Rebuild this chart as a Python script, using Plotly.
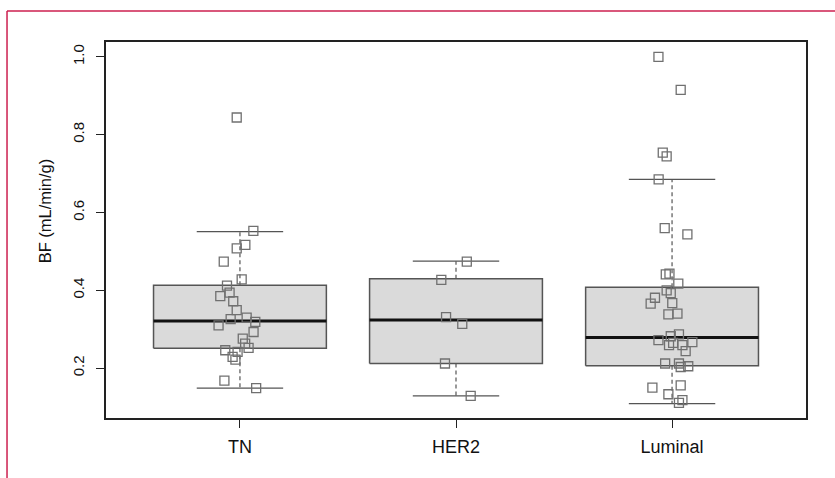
import plotly.graph_objects as go

# ---- data ----
categories = ["TN", "HER2", "Luminal"]
positions = [1, 2, 3]

# box statistics
upper_whisker = [0.551, 0.475, 0.685]
q3 = [0.413, 0.430, 0.408]
median = [0.321, 0.324, 0.279]
q1 = [0.251, 0.212, 0.206]
lower_whisker = [0.149, 0.129, 0.109]

# individual points: values and horizontal jitter (category units)
tn_values = [0.553, 0.517, 0.508, 0.474, 0.428, 0.412, 0.394, 0.385, 0.372, 0.349,
             0.326, 0.330, 0.310, 0.319, 0.293, 0.276, 0.263, 0.252, 0.246, 0.242,
             0.229, 0.222, 0.168, 0.149, 0.844]
tn_jitter = [0.062, 0.025, -0.015, -0.075, 0.008, -0.060, -0.048, -0.091, -0.031, -0.015,
             -0.043, 0.031, -0.099, 0.071, 0.063, 0.013, 0.024, 0.040, -0.068, -0.011,
             -0.034, -0.021, -0.072, 0.075, -0.015]

her2_values = [0.474, 0.427, 0.331, 0.314, 0.212, 0.129]
her2_jitter = [0.050, -0.068, -0.046, 0.029, -0.051, 0.068]

luminal_values = [1.000, 0.915, 0.754, 0.744, 0.685, 0.560, 0.544, 0.441, 0.443, 0.417,
                  0.400, 0.393, 0.381, 0.366, 0.367, 0.338, 0.340, 0.287, 0.282, 0.272,
                  0.267, 0.265, 0.259, 0.259, 0.244, 0.212, 0.212, 0.203, 0.205, 0.150,
                  0.156, 0.133, 0.118, 0.111]
luminal_jitter = [-0.063, 0.040, -0.043, -0.025, -0.062, -0.034, 0.071, -0.029, -0.012, 0.029,
                  -0.025, -0.006, -0.079, -0.099, 0.001, -0.017, 0.025, 0.032, -0.006, -0.063,
                  0.094, 0.005, -0.014, 0.048, 0.063, -0.032, 0.032, 0.040, 0.075, -0.091,
                  0.040, -0.017, 0.048, 0.032]

y_ticks = [0.2, 0.4, 0.6, 0.8, 1.0]
y_title = "BF (mL/min/g)"

# ---- styling ----
box_half = 0.4
cap_half = 0.2
box_fill = "#dadada"
box_line = "#555555"
pt_color = "#707070"
frame_red = "#cc1f4f"

fig = go.Figure()

for i, p in enumerate(positions):
    fig.add_trace(go.Scatter(x=[p, p, None, p, p],
                             y=[q3[i], upper_whisker[i], None, q1[i], lower_whisker[i]],
                             mode="lines", line=dict(color=box_line, width=1.2, dash="4px,3px"),
                             hoverinfo="skip", showlegend=False))
    fig.add_trace(go.Scatter(x=[p - cap_half, p + cap_half, None, p - cap_half, p + cap_half],
                             y=[upper_whisker[i], upper_whisker[i], None, lower_whisker[i], lower_whisker[i]],
                             mode="lines", line=dict(color=box_line, width=1.3),
                             hoverinfo="skip", showlegend=False))
    fig.add_trace(go.Scatter(x=[p - box_half, p + box_half, p + box_half, p - box_half, p - box_half],
                             y=[q1[i], q1[i], q3[i], q3[i], q1[i]],
                             mode="lines", fill="toself", fillcolor=box_fill,
                             line=dict(color=box_line, width=1.5),
                             hoverinfo="skip", showlegend=False))
    fig.add_trace(go.Scatter(x=[p - box_half, p + box_half], y=[median[i], median[i]],
                             mode="lines", line=dict(color="#111111", width=3),
                             hoverinfo="skip", showlegend=False))

groups = [(1, tn_values, tn_jitter), (2, her2_values, her2_jitter), (3, luminal_values, luminal_jitter)]
for p, vals, jit in groups:
    fig.add_trace(go.Scatter(x=[p + j for j in jit], y=vals, mode="markers",
                             marker=dict(symbol="square-open", size=9, color=pt_color,
                                         line=dict(width=1.3, color=pt_color)),
                             showlegend=False))

# red frame (decoration from the source figure)
fig.add_shape(type="line", xref="paper", yref="paper", x0=-0.1414, x1=1.05, y0=1.0824, y1=1.0824,
              line=dict(color=frame_red, width=1.5))
fig.add_shape(type="line", xref="paper", yref="paper", x0=-0.1414, x1=-0.1414, y0=1.0824, y1=-0.2,
              line=dict(color=frame_red, width=1.5))

# y-axis title
fig.add_annotation(text=y_title, xref="paper", yref="paper", x=-0.087, y=0.55,
                   textangle=-90, showarrow=False, font=dict(size=16.5),
                   xanchor="center", yanchor="middle")

fig.update_layout(
    width=835, height=478,
    margin=dict(l=106, r=29, t=42, b=60),
    paper_bgcolor="white", plot_bgcolor="white",
    font=dict(family="Liberation Sans, Arial, sans-serif", color="#111111", size=15),
    xaxis=dict(range=[0.38, 3.62], tickmode="array", tickvals=positions, ticktext=categories,
               showgrid=False, zeroline=False, showline=True, mirror=True,
               linecolor="#222222", linewidth=1.5, ticks="outside", ticklen=8,
               tickcolor="#222222", tickwidth=1.3, tickfont=dict(size=18),
               ticklabelstandoff=4),
    yaxis=dict(range=[0.072, 1.038], tickmode="array", tickvals=y_ticks,
               ticktext=[f"{v:.1f}" for v in y_ticks], tickangle=-90,
               showgrid=False, zeroline=False, showline=True, mirror=True,
               linecolor="#222222", linewidth=1.5, ticks="outside", ticklen=8,
               tickcolor="#222222", tickwidth=1.3, tickfont=dict(size=15),
               ticklabelstandoff=6),
)

fig.write_html("out.html", config={"displayModeBar": False},
               post_script="document.body.style.margin='0px';")
